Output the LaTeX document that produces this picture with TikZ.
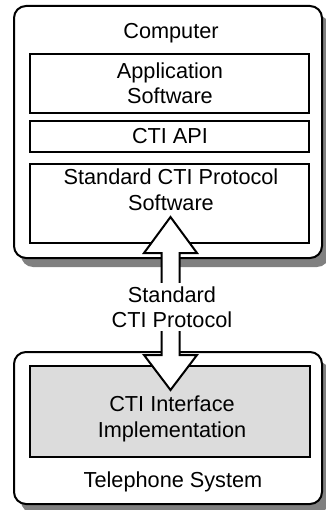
\documentclass[tikz,border=0pt]{standalone}
\usepackage{fontspec}
\setmainfont{Liberation Sans}
\definecolor{shadowgray}{HTML}{808080}
\definecolor{implgray}{HTML}{DCDCDC}
\begin{document}
\begin{tikzpicture}[x=1pt,y=-1pt,
  lbl/.style={font=\fontsize{21.7pt}{25.5pt}\selectfont, align=center, inner sep=0pt},
  outerbox/.style={draw=black, line width=2pt, fill=white, rounded corners=12pt, inner sep=0pt},
  shadowbox/.style={fill=shadowgray, rounded corners=12pt, inner sep=0pt},
  innerbox/.style={draw=black, line width=2pt, fill=white, inner sep=0pt},
  implbox/.style={draw=black, line width=2pt, fill=implgray, inner sep=0pt},
  arrowbody/.style={draw=black, line width=2pt, fill=white, line join=miter},
]
\useasboundingbox (0,0) rectangle (325,510);
% shadows
\node[shadowbox, minimum width=308pt, minimum height=252pt] (compshadow) at (175,141) {};
\node[shadowbox, minimum width=308pt, minimum height=152pt] (telshadow) at (175,437) {};
% outer boxes
\node[outerbox, minimum width=308pt, minimum height=252pt] (computer) at (168,132) {};
\node[outerbox, minimum width=308pt, minimum height=152pt] (telephone) at (168,428) {};
% inner boxes
\node[innerbox, minimum width=279pt, minimum height=59pt] (app) at (169.5,83.5) {};
\node[innerbox, minimum width=279pt, minimum height=31pt] (api) at (169.5,136.5) {};
\node[innerbox, minimum width=279pt, minimum height=79pt] (stdsw) at (169.5,203.5) {};
\node[implbox, minimum width=280pt, minimum height=91pt] (impl) at (170,411.5) {};
% texts
\node[lbl] (complbl) at (171,33) {Computer};
\node[lbl] (applbl) at (170,83) {Application\\Software};
\node[lbl] (apilbl) at (170,136.5) {CTI API};
\node[lbl] (stdlbl) at (171,189.5) {Standard CTI Protocol\\Software};
\node[lbl] (impllbl) at (172,419) {CTI Interface\\Implementation};
\node[lbl] (tellbl) at (173,482) {Telephone System};
% double block arrow
\coordinate (ttip) at (170.5,217);
\coordinate (btip) at (170.5,390);
\draw[arrowbody] (ttip) -- ++(26.5,36) -- ++(-17.5,0) -- ++(0,102) -- ++(17.5,0)
  -- (btip) -- ++(-26.5,-35) -- ++(17.5,0) -- ++(0,-102) -- ++(-17.5,0) -- cycle;
\node[lbl, fill=white, inner sep=3pt] (proto) at (172,307) {Standard\\CTI Protocol};
\end{tikzpicture}
\end{document}
